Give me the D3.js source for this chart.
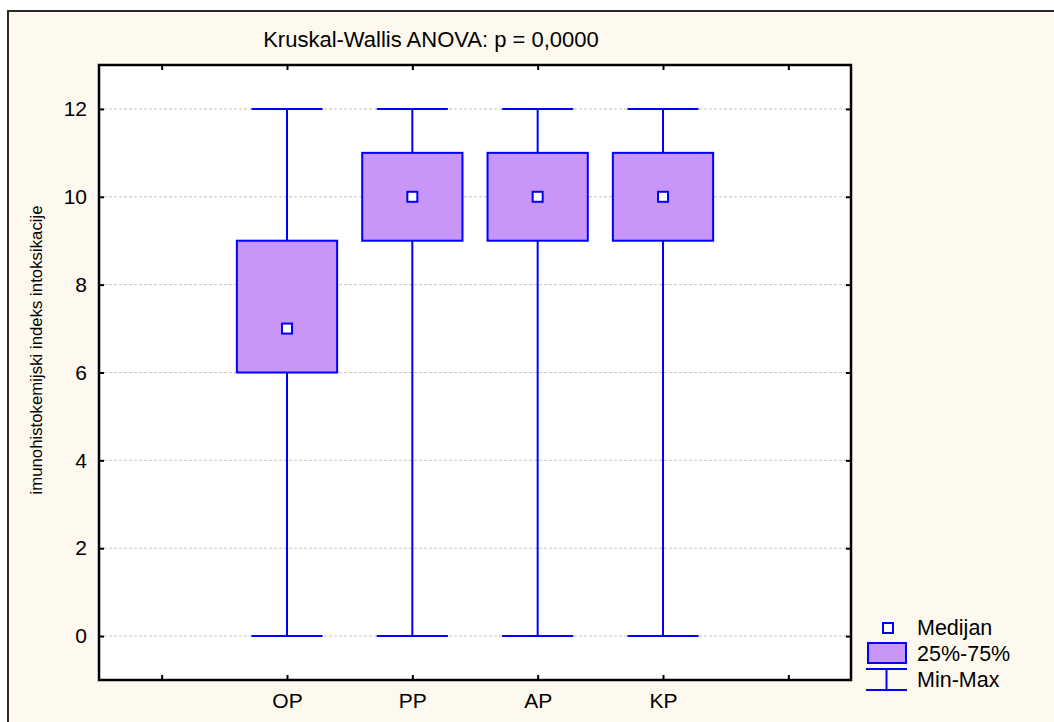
<!DOCTYPE html>
<html>
<head>
<meta charset="utf-8">
<script src="https://cdn.jsdelivr.net/npm/d3@7"></script>
<style>
  html, body { margin: 0; padding: 0; background: #ffffff; }
  svg { display: block; font-family: "Liberation Sans", Arial, sans-serif; }
</style>
</head>
<body>
<svg id="chart" width="1054" height="722"></svg>
<script>
// ---- data ----
const categories = ["OP", "PP", "AP", "KP"];
const mins    = [0, 0, 0, 0];
const q1s     = [6, 9, 9, 9];
const medians = [7, 10, 10, 10];
const q3s     = [9, 11, 11, 11];
const maxs    = [12, 12, 12, 12];
const yTicks  = [0, 2, 4, 6, 8, 10, 12];
const titleText = "Kruskal-Wallis ANOVA: p = 0,0000";
const yLabel = "imunohistokemijski indeks intoksikacije";
const legendLabels = ["Medijan", "25%-75%", "Min-Max"];

// ---- layout ----
const svg = d3.select("#chart");
const W = 1054, H = 722;
const plot = { left: 99, top: 65, right: 851, bottom: 680 };
const blue = "#0000ff";
const boxFill = "#c896f8";

// outer cream panel
svg.append("rect").attr("x", 8).attr("y", 11).attr("width", W + 20).attr("height", H + 20)
  .attr("fill", "#fef9ee").attr("stroke", "#2a2a2a").attr("stroke-width", 2);

// scales
const slots = ["_l", ...categories, "_r"];
const x = d3.scalePoint().domain(slots).range([plot.left, plot.right]).padding(0.5);
const step = x.step();
const y = d3.scaleLinear().domain([-1, 13]).range([plot.bottom, plot.top]);

// plot background
svg.append("rect").attr("x", plot.left).attr("y", plot.top)
  .attr("width", plot.right - plot.left).attr("height", plot.bottom - plot.top)
  .attr("fill", "#ffffff");

// grid
svg.append("g").selectAll("line").data(yTicks).join("line")
  .attr("x1", plot.left).attr("x2", plot.right)
  .attr("y1", d => y(d)).attr("y2", d => y(d))
  .attr("stroke", "#c4c4c4").attr("stroke-width", 1).attr("stroke-dasharray", "3,2");

// axes
const fmtX = d => d.startsWith("_") ? "" : d;
const gL = svg.append("g").attr("transform", `translate(${plot.left},0)`)
  .call(d3.axisLeft(y).tickValues(yTicks).tickSize(-5).tickPadding(12));
const gR = svg.append("g").attr("transform", `translate(${plot.right},0)`)
  .call(d3.axisRight(y).tickValues(yTicks).tickSize(-5).tickFormat(""));
const gB = svg.append("g").attr("transform", `translate(0,${plot.bottom})`)
  .call(d3.axisBottom(x).tickSize(-5).tickPadding(13).tickFormat(fmtX));
const gT = svg.append("g").attr("transform", `translate(0,${plot.top})`)
  .call(d3.axisTop(x).tickSize(-5).tickFormat(""));
[gL, gR, gB, gT].forEach(g => {
  g.select(".domain").remove();
  g.selectAll(".tick line").attr("stroke", "#000").attr("stroke-width", 2);
  g.selectAll("text").attr("fill", "#000").style("font-family", "'Liberation Sans', Arial, sans-serif");
});
gL.selectAll("text").attr("font-size", 21);
gB.selectAll("text").attr("font-size", 21);

// plot frame
svg.append("rect").attr("x", plot.left).attr("y", plot.top)
  .attr("width", plot.right - plot.left).attr("height", plot.bottom - plot.top)
  .attr("fill", "none").attr("stroke", "#000").attr("stroke-width", 2.5);

// boxes
const data = categories.map((c, i) => ({ c, min: mins[i], q1: q1s[i], med: medians[i], q3: q3s[i], max: maxs[i] }));
const boxW = step * 0.8, capW = step * 0.567, medS = 10;
const g = svg.append("g");
data.forEach(d => {
  const cx = x(d.c);
  g.append("line").attr("x1", cx).attr("x2", cx).attr("y1", y(d.max)).attr("y2", y(d.min))
    .attr("stroke", blue).attr("stroke-width", 2);
  [d.min, d.max].forEach(v => {
    g.append("line").attr("x1", cx - capW / 2).attr("x2", cx + capW / 2)
      .attr("y1", y(v)).attr("y2", y(v)).attr("stroke", blue).attr("stroke-width", 2);
  });
  g.append("rect").attr("x", cx - boxW / 2).attr("y", y(d.q3))
    .attr("width", boxW).attr("height", y(d.q1) - y(d.q3))
    .attr("fill", boxFill).attr("stroke", blue).attr("stroke-width", 2);
  g.append("rect").attr("x", cx - medS / 2).attr("y", y(d.med) - medS / 2)
    .attr("width", medS).attr("height", medS)
    .attr("fill", "#ffffff").attr("stroke", blue).attr("stroke-width", 2);
});

// title
svg.append("text").attr("x", 431).attr("y", 47).attr("text-anchor", "middle")
  .attr("font-size", 22).attr("fill", "#000").text(titleText);

// y label
svg.append("text").attr("transform", "translate(42,350) rotate(-90)")
  .attr("text-anchor", "middle").attr("font-size", 16.8).attr("fill", "#000").text(yLabel);

// legend
const lg = svg.append("g");
lg.append("rect").attr("x", 883).attr("y", 623).attr("width", 10).attr("height", 10)
  .attr("fill", "#fff").attr("stroke", blue).attr("stroke-width", 2);
lg.append("rect").attr("x", 868).attr("y", 643).attr("width", 38).attr("height", 20)
  .attr("fill", boxFill).attr("stroke", blue).attr("stroke-width", 2);
lg.append("line").attr("x1", 866).attr("x2", 907).attr("y1", 669).attr("y2", 669).attr("stroke", blue).attr("stroke-width", 2);
lg.append("line").attr("x1", 866).attr("x2", 907).attr("y1", 690).attr("y2", 690).attr("stroke", blue).attr("stroke-width", 2);
lg.append("line").attr("x1", 886.5).attr("x2", 886.5).attr("y1", 669).attr("y2", 690).attr("stroke", blue).attr("stroke-width", 2);
const legY = [635, 661, 687];
legendLabels.forEach((t, i) => {
  lg.append("text").attr("x", 917).attr("y", legY[i]).attr("font-size", 21.5).attr("fill", "#000").text(t);
});
</script>
</body>
</html>
